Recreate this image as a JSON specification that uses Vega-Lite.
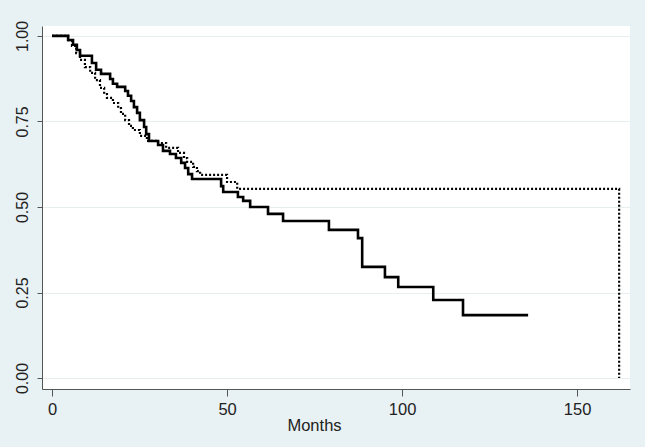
{
  "$schema": "https://vega.github.io/schema/vega-lite/v6.json",
  "width": 588,
  "height": 363,
  "autosize": {"type": "none"},
  "padding": {"left": 42, "top": 26, "right": 15, "bottom": 58},
  "background": "#e8f1f3",
  "config": {
    "view": {"fill": "white", "stroke": null},
    "font": "Liberation Sans"
  },
  "datasets": {
    "km": [
      {"group": "solid", "months": 0, "surv": 1.0},
      {"group": "solid", "months": 4.6, "surv": 0.988},
      {"group": "solid", "months": 6.0, "surv": 0.974},
      {"group": "solid", "months": 7.1, "surv": 0.959},
      {"group": "solid", "months": 8.0, "surv": 0.942},
      {"group": "solid", "months": 11.4, "surv": 0.921},
      {"group": "solid", "months": 12.6, "surv": 0.901},
      {"group": "solid", "months": 14.0, "surv": 0.889},
      {"group": "solid", "months": 16.6, "surv": 0.874},
      {"group": "solid", "months": 17.4, "surv": 0.86},
      {"group": "solid", "months": 18.6, "surv": 0.851},
      {"group": "solid", "months": 20.9, "surv": 0.839},
      {"group": "solid", "months": 21.7, "surv": 0.825},
      {"group": "solid", "months": 22.6, "surv": 0.81},
      {"group": "solid", "months": 23.4, "surv": 0.792},
      {"group": "solid", "months": 24.3, "surv": 0.775},
      {"group": "solid", "months": 25.1, "surv": 0.754},
      {"group": "solid", "months": 26.3, "surv": 0.734},
      {"group": "solid", "months": 26.9, "surv": 0.713},
      {"group": "solid", "months": 27.7, "surv": 0.693},
      {"group": "solid", "months": 30.3, "surv": 0.681},
      {"group": "solid", "months": 31.7, "surv": 0.664},
      {"group": "solid", "months": 33.7, "surv": 0.655},
      {"group": "solid", "months": 35.4, "surv": 0.643},
      {"group": "solid", "months": 36.9, "surv": 0.629},
      {"group": "solid", "months": 38.0, "surv": 0.614},
      {"group": "solid", "months": 38.9, "surv": 0.596},
      {"group": "solid", "months": 40.0, "surv": 0.582},
      {"group": "solid", "months": 48.3, "surv": 0.561},
      {"group": "solid", "months": 48.9, "surv": 0.544},
      {"group": "solid", "months": 53.1, "surv": 0.529},
      {"group": "solid", "months": 54.6, "surv": 0.518},
      {"group": "solid", "months": 56.6, "surv": 0.5},
      {"group": "solid", "months": 61.7, "surv": 0.48},
      {"group": "solid", "months": 66.0, "surv": 0.459},
      {"group": "solid", "months": 79.1, "surv": 0.433},
      {"group": "solid", "months": 87.4, "surv": 0.409},
      {"group": "solid", "months": 88.6, "surv": 0.325},
      {"group": "solid", "months": 95.1, "surv": 0.295},
      {"group": "solid", "months": 98.9, "surv": 0.266},
      {"group": "solid", "months": 108.9, "surv": 0.228},
      {"group": "solid", "months": 117.4, "surv": 0.184},
      {"group": "solid", "months": 136.0, "surv": 0.184},
      {"group": "dotted", "months": 0, "surv": 1.0},
      {"group": "dotted", "months": 4.6, "surv": 0.988},
      {"group": "dotted", "months": 5.7, "surv": 0.971},
      {"group": "dotted", "months": 6.9, "surv": 0.95},
      {"group": "dotted", "months": 8.0, "surv": 0.93},
      {"group": "dotted", "months": 9.4, "surv": 0.909},
      {"group": "dotted", "months": 10.9, "surv": 0.892},
      {"group": "dotted", "months": 12.3, "surv": 0.871},
      {"group": "dotted", "months": 13.7, "surv": 0.848},
      {"group": "dotted", "months": 14.9, "surv": 0.83},
      {"group": "dotted", "months": 15.7, "surv": 0.819},
      {"group": "dotted", "months": 17.4, "surv": 0.804},
      {"group": "dotted", "months": 18.9, "surv": 0.789},
      {"group": "dotted", "months": 19.7, "surv": 0.772},
      {"group": "dotted", "months": 20.9, "surv": 0.754},
      {"group": "dotted", "months": 22.0, "surv": 0.737},
      {"group": "dotted", "months": 23.1, "surv": 0.725},
      {"group": "dotted", "months": 25.1, "surv": 0.708},
      {"group": "dotted", "months": 27.1, "surv": 0.693},
      {"group": "dotted", "months": 30.3, "surv": 0.687},
      {"group": "dotted", "months": 32.6, "surv": 0.673},
      {"group": "dotted", "months": 36.0, "surv": 0.658},
      {"group": "dotted", "months": 37.7, "surv": 0.643},
      {"group": "dotted", "months": 38.6, "surv": 0.632},
      {"group": "dotted", "months": 40.3, "surv": 0.617},
      {"group": "dotted", "months": 41.4, "surv": 0.605},
      {"group": "dotted", "months": 42.3, "surv": 0.594},
      {"group": "dotted", "months": 50.0, "surv": 0.573},
      {"group": "dotted", "months": 52.9, "surv": 0.553},
      {"group": "dotted", "months": 162.0, "surv": 0.0}
    ]
  },
  "data": {"name": "km"},
  "encoding": {
    "x": {
      "field": "months",
      "type": "quantitative",
      "scale": {"domain": [-2.86, 165.1], "nice": false, "zero": false},
      "axis": {
        "values": [0, 50, 100, 150],
        "title": "Months",
        "grid": false,
        "domainColor": "#555555",
        "tickColor": "#555555",
        "tickSize": 7,
        "labelFontSize": 16.5,
        "labelColor": "#222222",
        "labelPadding": 5,
        "titleFontSize": 16.5,
        "titleFontWeight": "normal",
        "titleColor": "#222222",
        "titleX": 272,
        "titlePadding": 0
      }
    },
    "y": {
      "field": "surv",
      "type": "quantitative",
      "scale": {"domain": [-0.032, 1.029], "nice": false, "zero": false},
      "axis": {
        "values": [0, 0.25, 0.5, 0.75, 1],
        "format": ".2f",
        "title": null,
        "grid": true,
        "gridColor": "#e6eef0",
        "domainColor": "#555555",
        "tickColor": "#555555",
        "tickSize": 5,
        "labelAngle": 270,
        "labelAlign": "center",
        "labelBaseline": "bottom",
        "labelFontSize": 16,
        "labelColor": "#222222",
        "labelPadding": 7
      }
    }
  },
  "layer": [
    {
      "transform": [{"filter": "datum.group === 'solid'"}],
      "mark": {"type": "line", "interpolate": "step-after", "color": "black", "strokeWidth": 2.6}
    },
    {
      "transform": [{"filter": "datum.group === 'dotted'"}],
      "mark": {"type": "line", "interpolate": "step-after", "color": "black", "strokeWidth": 2.2, "strokeDash": [2, 2]}
    }
  ]
}
